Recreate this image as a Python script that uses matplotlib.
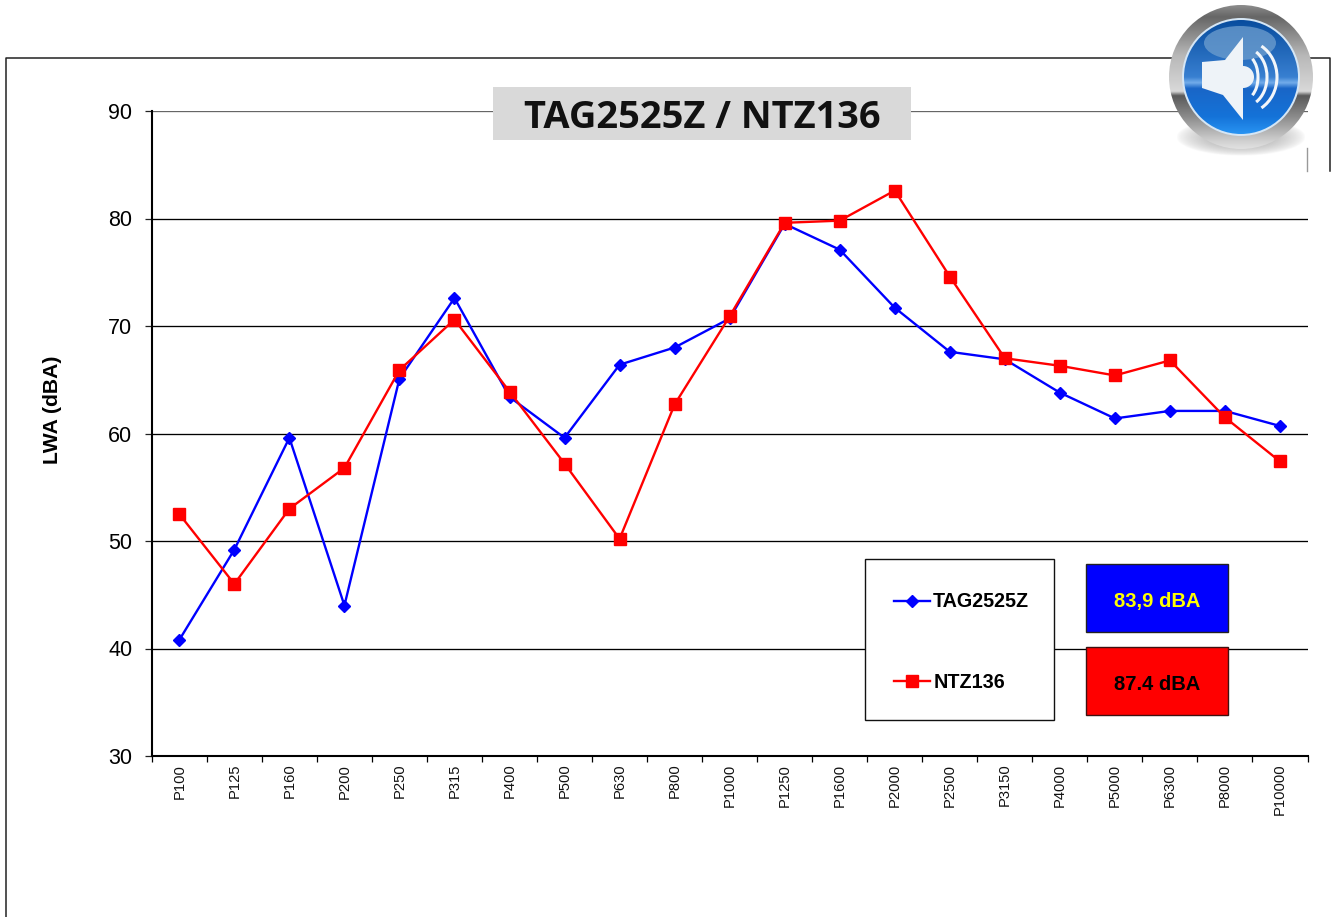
import numpy as np
import matplotlib
matplotlib.use("Agg")
import matplotlib.pyplot as plt
from matplotlib.patches import Rectangle, Circle, Polygon, Arc, Ellipse

W, H = 1332, 917

categories = ["P100", "P125", "P160", "P200", "P250", "P315", "P400", "P500", "P630", "P800", "P1000",
              "P1250", "P1600", "P2000", "P2500", "P3150", "P4000", "P5000", "P6300", "P8000", "P10000"]
tag_values = [40.8, 49.2, 59.6, 44.0, 65.1, 72.6, 63.4, 59.6, 66.4, 68.0, 70.7,
              79.5, 77.1, 71.7, 67.6, 66.9, 63.8, 61.4, 62.1, 62.1, 60.7]
ntz_values = [52.5, 46.0, 53.0, 56.8, 65.9, 70.6, 63.9, 57.2, 50.2, 62.7, 70.9,
              79.6, 79.8, 82.6, 74.6, 67.0, 66.3, 65.4, 66.8, 61.5, 57.4]
y_ticks = [30, 40, 50, 60, 70, 80, 90]
series_names = ["TAG2525Z", "NTZ136"]
title_text = "TAG2525Z / NTZ136"
y_label = "LWA (dBA)"
total_tag = "83,9 dBA"
total_ntz = "87.4 dBA"

plt.rcParams["font.family"] = ["Liberation Sans", "DejaVu Sans"]

fig = plt.figure(figsize=(W / 100, H / 100), dpi=100, facecolor="white")

# chart area, pixel box
ax = fig.add_axes([151.8 / W, 1 - 756 / H, (1307.5 - 151.8) / W, (756 - 111) / H])
x = np.arange(len(categories))
ax.set_xlim(-0.5, len(categories) - 0.5)
ax.set_ylim(30, 90)
ax.set_axisbelow(True)
ax.yaxis.grid(True, color="black", lw=0.95)
ax.set_yticks(y_ticks)
ax.tick_params(axis="y", labelsize=15.5, length=5, width=0.9, pad=9, color="#222222")
ax.get_ygridlines()[-1].set_color("#666666")

# ticks sit between the categories, labels on them
ax.set_xticks(np.arange(len(categories) + 1) - 0.5)
ax.set_xticklabels([])
ax.set_xticks(x, minor=True)
ax.set_xticklabels(categories, minor=True, rotation=90, fontsize=10.6, color="#111111")
ax.tick_params(axis="x", which="major", length=4, width=0.9)
ax.tick_params(axis="x", which="minor", length=0, pad=5.5)

for s in ["top", "right"]:
    ax.spines[s].set_visible(False)
for s in ["left", "bottom"]:
    ax.spines[s].set_linewidth(1.5)

tag_line, = ax.plot(x, tag_values, color="#0000ff", lw=1.7, marker="D", ms=6.3, mec="#0000ff", label=series_names[0], zorder=3)
ntz_line, = ax.plot(x, ntz_values, color="#ff0000", lw=1.7, marker="s", ms=9, mec="#ff0000", label=series_names[1], zorder=4)

fig.text(52 / W, 1 - 410 / H, y_label, rotation=90, fontsize=15.2, fontweight="bold", ha="center", va="center")

# overlay in image pixels for frame, boxes and icon
ov = fig.add_axes([0, 0, 1, 1], zorder=5)
ov.patch.set_alpha(0)
ov.axis("off")


def reset_limits():
    ov.set_xlim(0, W)
    ov.set_ylim(H, 0)


reset_limits()

# outer frame
ov.plot([6, 6, 1180], [917, 58, 58], color="#222222", lw=1.1)
ov.plot([1300, 1330, 1330], [58, 58, 171], color="#222222", lw=1.1)
ov.plot([1307, 1307], [148, 171], color="#999999", lw=1.0)

# title
ov.add_patch(Rectangle((493, 87), 418, 53, fc="#d9d9d9", ec="none"))
ov.text(702, 118, title_text, fontsize=27.4, fontweight="bold", family="Open Sans", color="#111111", ha="center", va="center")

# legend box
ov.add_patch(Rectangle((865, 559), 189, 161, fc="white", ec="#111111", lw=1.0))
ov.legend([tag_line, ntz_line], series_names, loc="center left", bbox_to_anchor=(876 / W, 1 - 642 / H),
          bbox_transform=fig.transFigure, frameon=False, labelspacing=3.1, handlelength=1.85,
          handletextpad=0.15, prop={"weight": "bold", "size": 14.2})

# totals
ov.add_patch(Rectangle((1086, 564), 142, 68, fc="#0000ff", ec="#222222", lw=1.0))
ov.text(1157, 601, total_tag, fontsize=14.5, fontweight="bold", color="#ffff00", ha="center", va="center")
ov.add_patch(Rectangle((1086, 647), 142, 68, fc="#ff0000", ec="#401010", lw=1.0))
ov.text(1157, 684, total_ntz, fontsize=14.5, fontweight="bold", color="black", ha="center", va="center")

# speaker icon
cx, cy = 1241, 77
yy, xx = np.mgrid[-1:1:64j, -1:1:128j]
sh_img = np.ones((64, 128, 4))
sh_img[..., :3] = 0.6
sh_img[..., 3] = np.clip(1 - np.sqrt(xx ** 2 + yy ** 2), 0, 1) ** 0.7 * 0.95
ov.imshow(sh_img, extent=(1176, 1306, 156, 118), aspect="auto", zorder=1, interpolation="bilinear")

t = np.linspace(0, 1, 200)
ring_img = np.interp(t, [0, 0.08, 0.35, 0.6, 0.63, 0.78, 0.95, 1], [0.55, 0.40, 0.72, 0.85, 0.35, 0.55, 0.82, 0.88])[:, None]
im = ov.imshow(ring_img, extent=(cx - 72, cx + 72, cy + 72, cy - 72), cmap="gray", vmin=0, vmax=1, aspect="auto",
               zorder=2, interpolation="bilinear")
im.set_clip_path(Circle((cx, cy), 72, transform=ov.transData))

ov.add_patch(Circle((cx, cy), 59, fc="#d5e6f5", ec="none", zorder=3))
stops = [0, 0.5, 0.55, 0.6, 0.85, 1]
blue = np.zeros((200, 1, 3))
blue[:, 0, 0] = np.interp(t, stops, [0.03, 0.22, 0.45, 0.10, 0.08, 0.16])
blue[:, 0, 1] = np.interp(t, stops, [0.30, 0.50, 0.68, 0.40, 0.45, 0.58])
blue[:, 0, 2] = np.interp(t, stops, [0.62, 0.82, 0.92, 0.78, 0.85, 0.95])
im2 = ov.imshow(blue, extent=(cx - 57, cx + 57, cy + 57, cy - 57), aspect="auto", zorder=4, interpolation="bilinear")
im2.set_clip_path(Circle((cx, cy), 57, transform=ov.transData))
blob = Ellipse((cx - 1, cy - 34), 72, 34, fc="#6f9fcf", ec="none", alpha=0.75, zorder=5)
ov.add_patch(blob)

speaker = [(1202, 62), (1225, 60), (1243, 37), (1243, 120), (1223, 95), (1202, 88)]
ov.add_patch(Polygon(speaker, closed=True, fc="#eef3f8", ec="none", zorder=6, joinstyle="round", lw=2))
ov.add_patch(Ellipse((1243, 77), 22, 22, fc="#eef3f8", ec="none", zorder=6))
for rx, ry, ang in [(13, 22, 68), (22, 29, 66), (32, 36, 62)]:
    ov.add_patch(Arc((1245, 77), 2 * rx, 2 * ry, theta1=-ang, theta2=ang, color="#f2f6fa", lw=2.2, zorder=6))
reset_limits()

fig.savefig("out.png", dpi=100)
